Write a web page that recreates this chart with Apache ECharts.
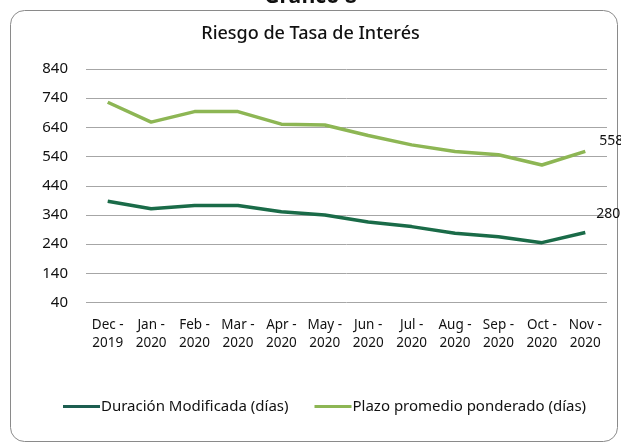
<!DOCTYPE html>
<html>
<head>
<meta charset="utf-8">
<script src="https://cdn.jsdelivr.net/npm/echarts@6/dist/echarts.min.js"></script>
<style>
  html, body { margin: 0; padding: 0; background: #fff; }
  #chart { width: 621px; height: 444px; }
</style>
</head>
<body>
<div id="chart"></div>
<script>
// data
const months = ['Dec -\n2019', 'Jan -\n2020', 'Feb -\n2020', 'Mar -\n2020', 'Apr -\n2020', 'May -\n2020',
  'Jun -\n2020', 'Jul -\n2020', 'Aug -\n2020', 'Sep -\n2020', 'Oct -\n2020', 'Nov -\n2020'];
const duracion = [387, 361, 372, 372, 351, 340, 316, 300, 277, 265, 245, 280];
const plazo = [726, 658, 694, 694, 651, 648, 612, 580, 557, 546, 511, 558];
const seriesNames = ['Duración Modificada (días)', 'Plazo promedio ponderado (días)'];

const FONT = 'Noto Sans';
const chart = echarts.init(document.getElementById('chart'));

chart.setOption({
  animation: false,
  textStyle: { fontFamily: FONT },
  title: [
    {
      text: 'Gráfico 8',
      left: 'center',
      top: -18,
      textStyle: { fontSize: 21, fontWeight: 'bold', color: '#111', fontFamily: FONT }
    },
    {
      text: 'Riesgo de Tasa de Interés',
      left: 'center',
      top: 20,
      textStyle: { fontSize: 18, fontWeight: 500, color: '#111', fontFamily: FONT }
    }
  ],
  graphic: [
    {
      type: 'rect',
      left: 8,
      top: 8,
      shape: { width: 607, height: 431, r: 14 },
      style: { fill: 'none', stroke: '#8a8a8a', lineWidth: 1 },
      silent: true,
      z: -1
    }
  ],
  grid: { left: 86, right: 14, top: 69, bottom: 141.5 },
  legend: {
    data: seriesNames,
    left: 58,
    top: 394,
    icon: 'rect',
    itemWidth: 37,
    itemHeight: 3,
    itemGap: 26,
    textStyle: { fontSize: 15, color: '#111', padding: [0, 0, 0, -4] }
  },
  xAxis: {
    type: 'category',
    data: months,
    boundaryGap: true,
    axisLine: { show: false },
    axisTick: { show: false },
    axisLabel: { interval: 0, fontSize: 13.5, lineHeight: 18, color: '#111', margin: 14 }
  },
  yAxis: {
    type: 'value',
    min: 40,
    max: 840,
    interval: 100,
    axisLine: { show: false },
    axisTick: { show: false },
    axisLabel: { fontSize: 15, color: '#111', margin: 18 },
    splitLine: { lineStyle: { color: '#a6a6a6', width: 1 } }
  },
  series: [
    {
      name: seriesNames[0],
      type: 'line',
      data: duracion,
      symbol: 'none',
      lineStyle: { width: 3.5, color: '#1a6b48' },
      itemStyle: { color: '#1d5e50' },
      endLabel: { show: true, formatter: '{c}', fontSize: 14, color: '#111', offset: [3, -18] }
    },
    {
      name: seriesNames[1],
      type: 'line',
      data: plazo,
      symbol: 'none',
      lineStyle: { width: 3.5, color: '#8db654' },
      itemStyle: { color: '#8db654' },
      endLabel: { show: true, formatter: '{c}', fontSize: 14, color: '#111', offset: [6, -10] }
    }
  ]
});
</script>
</body>
</html>
